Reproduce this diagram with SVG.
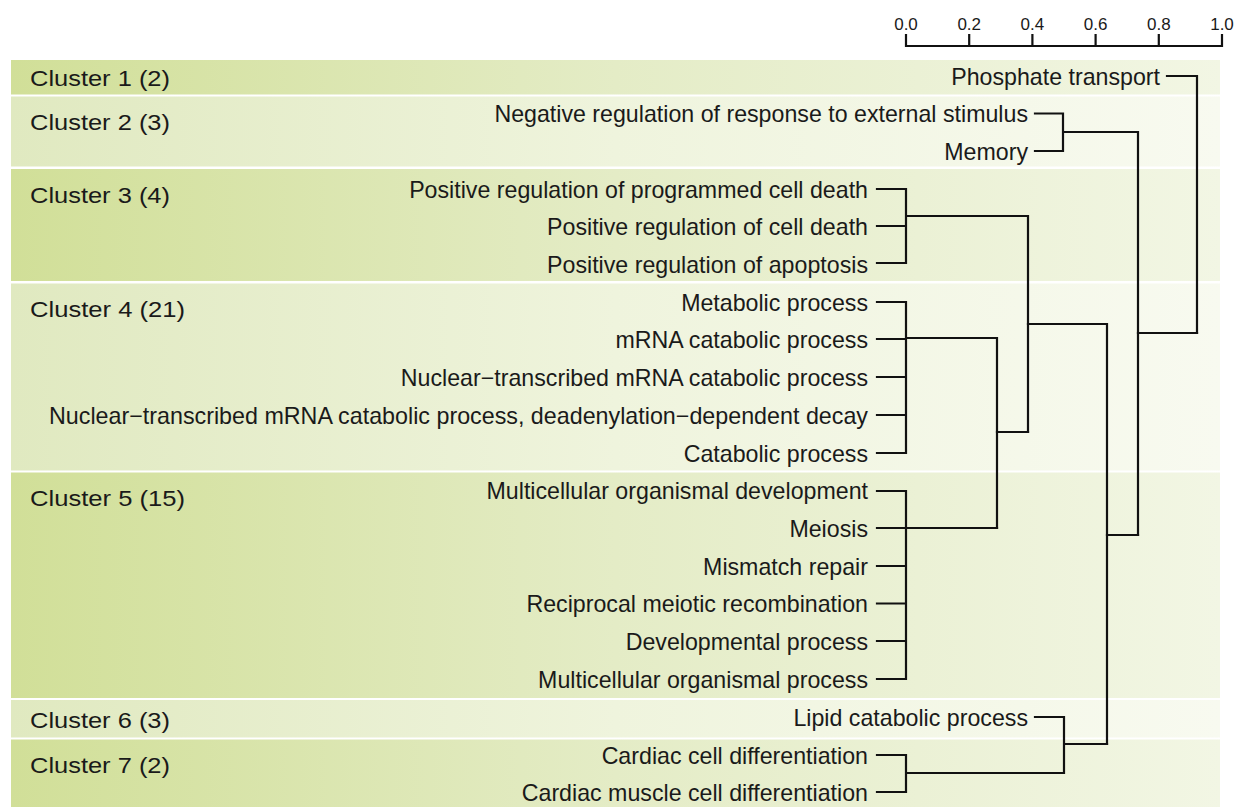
<svg xmlns="http://www.w3.org/2000/svg" width="1242" height="807" viewBox="0 0 1242 807">
<defs>
<linearGradient id="gOdd" x1="0" y1="0" x2="1" y2="0">
<stop offset="0" stop-color="#d1df98"/>
<stop offset="0.5" stop-color="#e4ecc6"/>
<stop offset="1" stop-color="#f2f6e4"/>
</linearGradient>
<linearGradient id="gEven" x1="0" y1="0" x2="1" y2="0">
<stop offset="0" stop-color="#e0e9c0"/>
<stop offset="0.5" stop-color="#eff4dd"/>
<stop offset="1" stop-color="#f8faf0"/>
</linearGradient>
<style>
text{font-family:"Liberation Sans",Arial,sans-serif;fill:#1a1a1a}
.leaf{font-size:23.2px;text-anchor:end}
.cl{font-size:22px}
.ax{font-size:17px;text-anchor:middle}
.ln{fill:none;stroke:#111;stroke-width:2.2;stroke-linecap:square}
</style>
</defs>
<rect width="1242" height="807" fill="#ffffff"/>
<g id="bands">
<rect x="11" y="60" width="1209" height="34.5" fill="url(#gOdd)"/>
<rect x="11" y="96.5" width="1209" height="70" fill="url(#gEven)"/>
<rect x="11" y="169" width="1209" height="112" fill="url(#gOdd)"/>
<rect x="11" y="283.5" width="1209" height="187" fill="url(#gEven)"/>
<rect x="11" y="472.5" width="1209" height="225.5" fill="url(#gOdd)"/>
<rect x="11" y="700" width="1209" height="37.5" fill="url(#gEven)"/>
<rect x="11" y="739.5" width="1209" height="67.5" fill="url(#gOdd)"/>
</g>
<g id="cluster-labels">
<text class="cl" x="30" y="86" textLength="140" lengthAdjust="spacingAndGlyphs">Cluster 1 (2)</text>
<text class="cl" x="30" y="130" textLength="140" lengthAdjust="spacingAndGlyphs">Cluster 2 (3)</text>
<text class="cl" x="30" y="203" textLength="140" lengthAdjust="spacingAndGlyphs">Cluster 3 (4)</text>
<text class="cl" x="30" y="317" textLength="155" lengthAdjust="spacingAndGlyphs">Cluster 4 (21)</text>
<text class="cl" x="30" y="506" textLength="155" lengthAdjust="spacingAndGlyphs">Cluster 5 (15)</text>
<text class="cl" x="30" y="728" textLength="140" lengthAdjust="spacingAndGlyphs">Cluster 6 (3)</text>
<text class="cl" x="30" y="773" textLength="140" lengthAdjust="spacingAndGlyphs">Cluster 7 (2)</text>
</g>
<g id="axis">
<path class="ln" d="M906,46H1222M906,35V46M969.2,35V46M1032.4,35V46M1095.6,35V46M1158.8,35V46M1222,35V46"/>
<text class="ax" x="906" y="30">0.0</text>
<text class="ax" x="969.2" y="30">0.2</text>
<text class="ax" x="1032.4" y="30">0.4</text>
<text class="ax" x="1095.6" y="30">0.6</text>
<text class="ax" x="1158.8" y="30">0.8</text>
<text class="ax" x="1222" y="30">1.0</text>
</g>
<g id="leaves">
<g id="n-phosphate"><text class="leaf" x="1160" y="85">Phosphate transport</text></g>
<g id="n-negreg"><text class="leaf" x="1028" y="122">Negative regulation of response to external stimulus</text></g>
<g id="n-memory"><text class="leaf" x="1028" y="160">Memory</text></g>
<g id="n-posprog"><text class="leaf" x="868" y="198">Positive regulation of programmed cell death</text></g>
<g id="n-poscell"><text class="leaf" x="868" y="235">Positive regulation of cell death</text></g>
<g id="n-posapop"><text class="leaf" x="868" y="273">Positive regulation of apoptosis</text></g>
<g id="n-metab"><text class="leaf" x="868" y="311">Metabolic process</text></g>
<g id="n-mrna"><text class="leaf" x="868" y="348">mRNA catabolic process</text></g>
<g id="n-nuclear"><text class="leaf" x="868" y="386">Nuclear−transcribed mRNA catabolic process</text></g>
<g id="n-nucdecay"><text class="leaf" x="868" y="424" textLength="819" lengthAdjust="spacingAndGlyphs">Nuclear−transcribed mRNA catabolic process, deadenylation−dependent decay</text></g>
<g id="n-catab"><text class="leaf" x="868" y="462">Catabolic process</text></g>
<g id="n-mcdev"><text class="leaf" x="868" y="499">Multicellular organismal development</text></g>
<g id="n-meiosis"><text class="leaf" x="868" y="537">Meiosis</text></g>
<g id="n-mismatch"><text class="leaf" x="868" y="575">Mismatch repair</text></g>
<g id="n-recip"><text class="leaf" x="868" y="612">Reciprocal meiotic recombination</text></g>
<g id="n-devproc"><text class="leaf" x="868" y="650">Developmental process</text></g>
<g id="n-mcproc"><text class="leaf" x="868" y="688">Multicellular organismal process</text></g>
<g id="n-lipid"><text class="leaf" x="1028" y="726">Lipid catabolic process</text></g>
<g id="n-cardcell"><text class="leaf" x="868" y="764">Cardiac cell differentiation</text></g>
<g id="n-cardmus"><text class="leaf" x="868" y="801">Cardiac muscle cell differentiation</text></g>
</g>
<g id="connectors">
<path class="ln" d="M1167,76H1197V333M1035,113.5H1063V151H1035M1063,132H1138V535"/>
<path class="ln" d="M877,189H906V263H877M877,226H906M906,216H1028V432"/>
<path class="ln" d="M877,302H906V453H877M877,339H906M877,377H906M877,415H906M906,338H997V528"/>
<path class="ln" d="M877,491H906V679H877M877,528H906M877,566H906M877,603.5H906M877,641H906M906,528H997M997,432H1028M1028,324H1107V744"/>
<path class="ln" d="M1035,717H1064V773M877,755H906V792H877M906,773H1064M1064,744H1107M1107,535H1138M1138,333H1197"/>
</g>
</svg>
